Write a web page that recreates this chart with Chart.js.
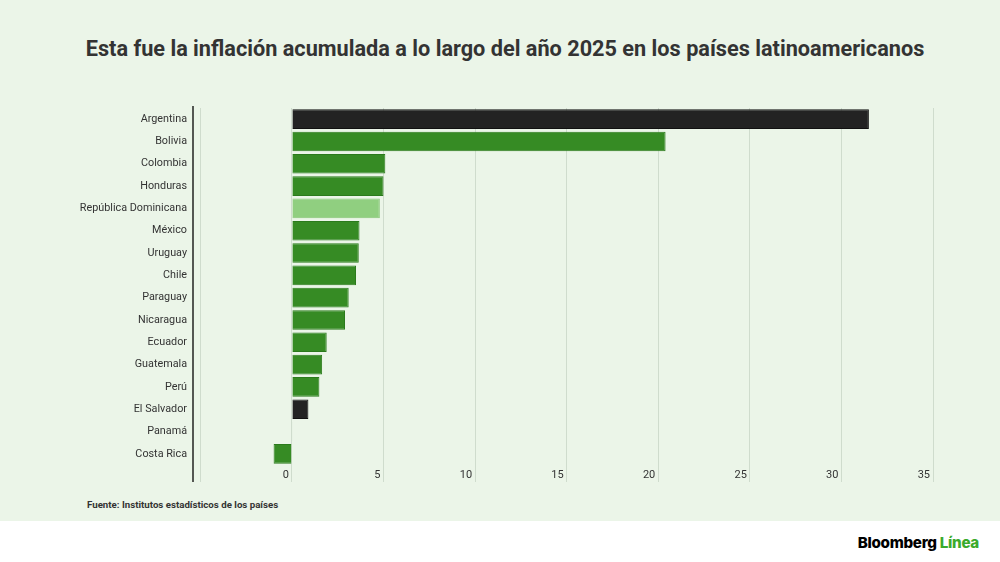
<!DOCTYPE html>
<html>
<head>
<meta charset="utf-8">
<script src="https://cdn.jsdelivr.net/npm/chart.js@4"></script>
<style>
  body { margin: 0; background: #fff; font-family: Roboto, "Noto Sans", sans-serif; }
  #wrap { position: relative; width: 1000px; height: 521px; background: #ebf5e8; }
  #title { position: absolute; left: 5px; top: 36px; width: 1000px; text-align: center; font-size: 21.7px; font-weight: bold; color: #333; }
  #chart-box { position: absolute; left: 0; top: 0; width: 1000px; height: 490px; }
  #source { position: absolute; left: 87px; top: 499px; font-size: 9.7px; font-weight: bold; color: #333; }
  #logo { position: absolute; right: 21px; top: 533px; font-family: Inter, "Liberation Sans", sans-serif; font-weight: 800; font-size: 15.2px; letter-spacing: -0.3px; }
  #logo .l { color: #3aaa2c; }
</style>
</head>
<body>
<div id="wrap">
  <div id="title">Esta fue la inflación acumulada a lo largo del año 2025 en los países latinoamericanos</div>
  <div id="chart-box"><canvas id="myChart"></canvas></div>
  <div id="source">Fuente: Institutos estadísticos de los países</div>
</div>
<div id="logo">Bloomberg <span class="l">Línea</span></div>
<script>
const countries = ["Argentina", "Bolivia", "Colombia", "Honduras", "República Dominicana", "México", "Uruguay", "Chile", "Paraguay", "Nicaragua", "Ecuador", "Guatemala", "Perú", "El Salvador", "Panamá", "Costa Rica"];
const inflation = [31.5, 20.4, 5.1, 5.0, 4.8, 3.69, 3.65, 3.5, 3.1, 2.9, 1.9, 1.65, 1.5, 0.9, 0.02, -1.0];
const xTicks = [-5, 0, 5, 10, 15, 20, 25, 30, 35];

// highlight groups
const darkOnes = ["Argentina", "El Salvador"];
const lightOnes = ["República Dominicana"];

const fill = countries.map((c) => darkOnes.includes(c) ? "#232323" : lightOnes.includes(c) ? "#90cf80" : "#368b24");
const edge = countries.map((c) => darkOnes.includes(c) ? "#111" : lightOnes.includes(c) ? "#86c676" : "#2b7a1c");

// y axis line runs past the chart area like in the original
const axisLine = {
  id: "axisLine",
  afterDraw(chart) {
    const { ctx, chartArea } = chart;
    ctx.save();
    ctx.strokeStyle = "#222";
    ctx.lineWidth = 1.5;
    ctx.beginPath();
    ctx.moveTo(chartArea.left, chartArea.top - 2);
    ctx.lineTo(chartArea.left, chartArea.bottom + 17);
    ctx.stroke();
    ctx.restore();
  },
};

new Chart(document.getElementById("myChart"), {
  type: "bar",
  data: {
    labels: countries,
    datasets: [{
      data: inflation,
      backgroundColor: fill,
      borderColor: edge,
      borderWidth: 1,
      barPercentage: 0.88,
      categoryPercentage: 1,
    }],
  },
  options: {
    indexAxis: "y",
    responsive: true,
    maintainAspectRatio: false,
    animation: false,
    layout: { padding: { left: 0, right: 67, top: 108, bottom: 8 } },
    plugins: {
      legend: { display: false },
      tooltip: { enabled: false },
    },
    scales: {
      x: {
        min: -5.4,
        max: 35,
        afterBuildTicks: (scale) => { scale.ticks = xTicks.map((v) => ({ value: v })); },
        afterFit: (scale) => { scale.height = 17; },
        border: { display: false },
        grid: { color: "#cfdccd", lineWidth: 1, tickLength: 17, drawTicks: true },
        ticks: {
          align: "end",
          padding: -13,
          labelOffset: -3,
          color: "#333",
          font: { family: "Roboto", size: 11 },
          callback: (v) => (v < 0 ? "" : v),
        },
      },
      y: {
        afterFit: (scale) => { scale.width = 193; },
        border: { display: false },
        grid: { display: false },
        ticks: { color: "#333", padding: -2, font: { family: "Roboto", size: 10.8 } },
      },
    },
  },
  plugins: [axisLine],
});
</script>
</body>
</html>
